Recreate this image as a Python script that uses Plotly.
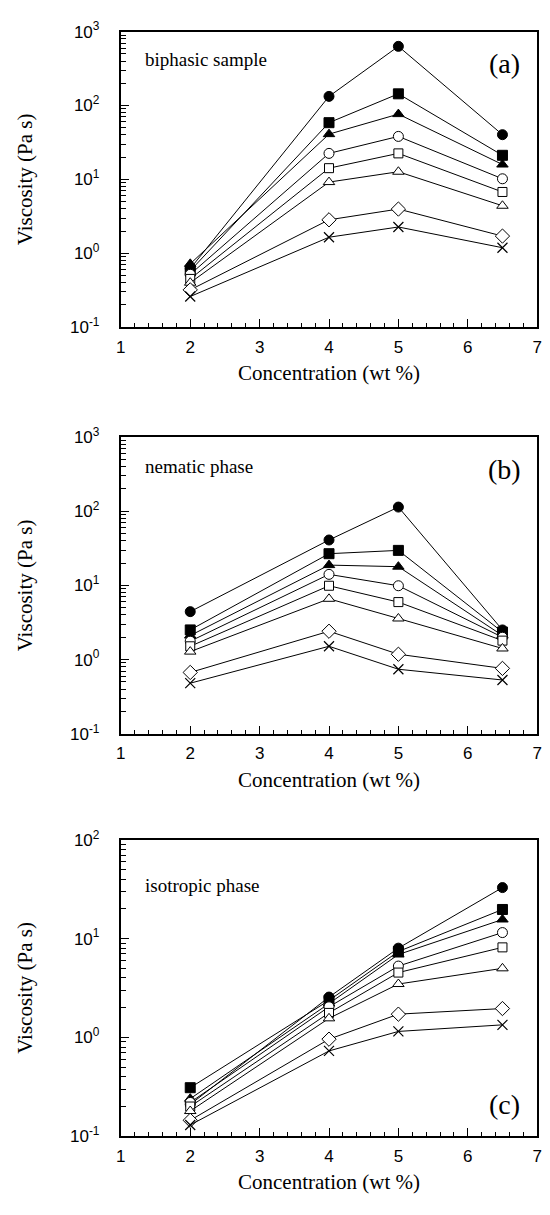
import plotly.graph_objects as go

conc = [2, 4, 5, 6.5]

series_names = ["s1", "s2", "s3", "s4", "s5", "s6", "s7", "s8"]

biphasic = {
    "s1": [0.62, 133, 632, 40.3],
    "s2": [0.58, 58.6, 144, 21.2],
    "s3": [0.72, 41, 76.5, 15.9],
    "s4": [0.52, 22.5, 38.2, 10.2],
    "s5": [0.45, 14.2, 22.5, 6.76],
    "s6": [0.40, 9.2, 12.7, 4.4],
    "s7": [0.32, 2.84, 3.97, 1.71],
    "s8": [0.26, 1.65, 2.27, 1.19],
}
nematic = {
    "s1": [4.43, 41, 114, 2.51],
    "s2": [2.51, 26.8, 29.7, 2.35],
    "s3": [2.11, 18.8, 17.9, 2.11],
    "s4": [1.77, 14.1, 9.9, 2.0],
    "s5": [1.51, 9.9, 5.96, 1.8],
    "s6": [1.28, 6.6, 3.58, 1.41],
    "s7": [0.67, 2.41, 1.18, 0.76],
    "s8": [0.48, 1.51, 0.74, 0.53],
}
isotropic = {
    "s1": [0.21, 2.56, 8.0, 32.8],
    "s2": [0.31, 2.37, 7.4, 19.7],
    "s3": [0.24, 2.2, 6.9, 15.6],
    "s4": [0.22, 2.04, 5.27, 11.5],
    "s5": [0.20, 1.77, 4.53, 8.15],
    "s6": [0.18, 1.56, 3.47, 5.0],
    "s7": [0.145, 0.96, 1.72, 1.96],
    "s8": [0.13, 0.73, 1.15, 1.34],
}

panel_labels = ["biphasic sample", "nematic phase", "isotropic phase"]
panel_letters = ["(a)", "(b)", "(c)"]
x_ticks = [1, 2, 3, 4, 5, 6, 7]
y_tick_exps_ab = [-1, 0, 1, 2, 3]
y_tick_exps_c = [-1, 0, 1, 2]

symbols = {
    "s1": ("circle", "black"),
    "s2": ("square", "black"),
    "s3": ("triangle-up", "black"),
    "s4": ("circle", "white"),
    "s5": ("square", "white"),
    "s6": ("triangle-up", "white"),
    "s7": ("diamond", "white"),
    "s8": ("x-thin", "black"),
}
sizes = {"s1": 10, "s2": 10, "s3": 10, "s4": 10, "s5": 9, "s6": 10, "s7": 11, "s8": 10}

W, H = 550, 1215
xl, xr = 118 / W, 542 / W
panels_px = [(20, 321), (433, 735), (843, 1145)]

fig = go.Figure()
datasets = [biphasic, nematic, isotropic]
serif = "Liberation Serif, Times New Roman, serif"
sans = "Liberation Sans, Arial, Helvetica, sans-serif"

for i, data in enumerate(datasets):
    xa = "x" if i == 0 else f"x{i+1}"
    ya = "y" if i == 0 else f"y{i+1}"
    for name in series_names:
        sym, fill = symbols[name]
        mk = dict(symbol=sym, size=sizes[name], color=fill,
                  line=dict(color="black", width=1.2 if name == "s8" else 1))
        fig.add_trace(go.Scatter(
            x=conc, y=data[name], mode="lines+markers",
            line=dict(color="black", width=1),
            marker=mk, showlegend=False, xaxis=xa, yaxis=ya, cliponaxis=False))

    top, bot = panels_px[i]
    dom = [1 - bot / H, 1 - top / H]
    exps = y_tick_exps_c if i == 2 else y_tick_exps_ab
    xkey = "xaxis" if i == 0 else f"xaxis{i+1}"
    ykey = "yaxis" if i == 0 else f"yaxis{i+1}"
    fig.update_layout({
        xkey: dict(
            domain=[xl, xr], anchor=ya, range=[1, 7],
            tickvals=x_ticks, ticktext=[str(v) for v in x_ticks],
            ticks="inside", ticklen=8, tickwidth=1.3, tickcolor="black",
            minor=dict(dtick=0.2, tick0=1, ticks="inside", ticklen=4, tickwidth=1, tickcolor="black", showgrid=False),
            showline=True, linecolor="black", linewidth=2, mirror=True,
            showgrid=False, zeroline=False,
            tickfont=dict(family=sans, size=17, color="black"),
            ticklabelstandoff=3,
            title=dict(text="Concentration (wt %)", font=dict(family=serif, size=21, color="black"), standoff=10),
        ),
        ykey: dict(
            domain=dom, anchor=xa, type="log", range=[exps[0], exps[-1]],
            tickvals=[10 ** e for e in exps],
            ticktext=[f"10<sup>{e}</sup>" for e in exps],
            ticks="inside", ticklen=8, tickwidth=1.3, tickcolor="black",
            minor=dict(dtick="D1", ticks="inside", ticklen=5, tickwidth=1, tickcolor="black", showgrid=False),
            showline=True, linecolor="black", linewidth=2, mirror=True,
            showgrid=False, zeroline=False,
            tickfont=dict(family=sans, size=17, color="black"),
            ticklabelstandoff=16,
            title=dict(text="Viscosity (Pa s)", font=dict(family=serif, size=21, color="black"), standoff=32),
        ),
    })

ann = []
label_y = [48, 463, 890]
letter_y = [52, 466, 1113]
for i in range(3):
    ann.append(dict(xref="paper", yref="paper", x=141 / W, y=1 - label_y[i] / H,
                    xanchor="left", yanchor="middle", showarrow=False,
                    text=panel_labels[i], font=dict(family=serif, size=19, color="black")))
    ann.append(dict(xref="paper", yref="paper", x=509 / W, y=1 - letter_y[i] / H,
                    xanchor="center", yanchor="middle", showarrow=False,
                    text=panel_letters[i], font=dict(family=serif, size=28, color="black")))

fig.update_layout(width=W, height=H, margin=dict(l=0, r=0, t=0, b=0),
                  paper_bgcolor="white", plot_bgcolor="white", annotations=ann)

fig.write_html("out.html")
